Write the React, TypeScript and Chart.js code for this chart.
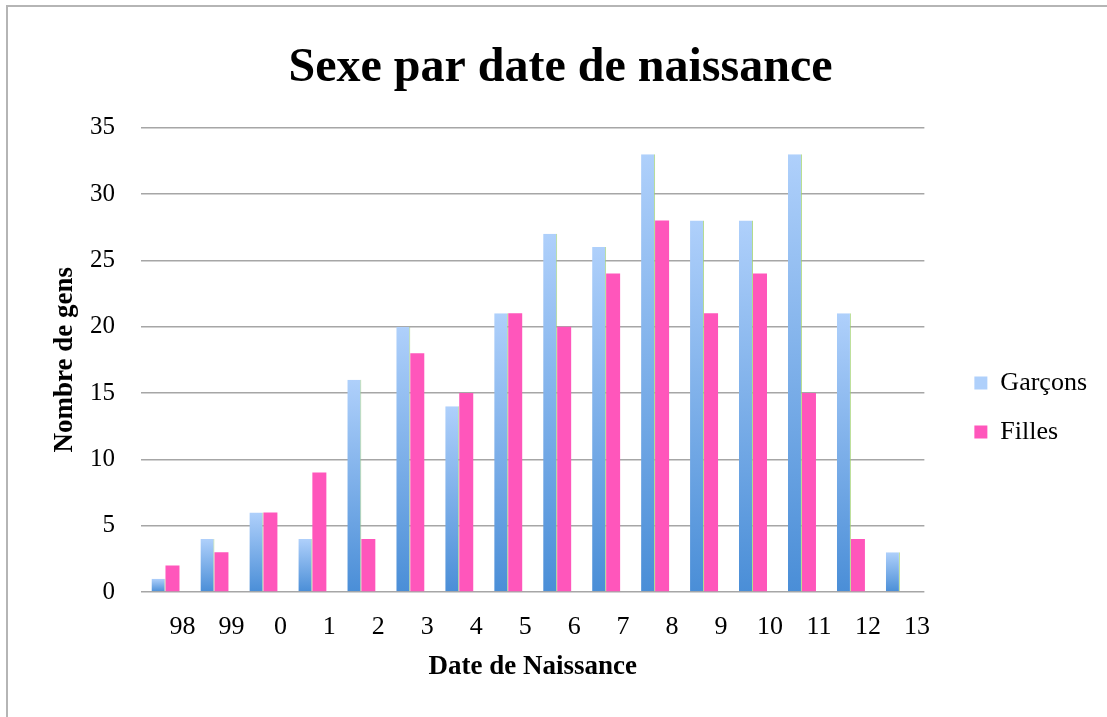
import React, { useEffect, useRef } from 'react';
import { Chart, registerables } from 'chart.js';

Chart.register(...registerables);

// ---- data ----
const categories = ['98', '99', '0', '1', '2', '3', '4', '5', '6', '7', '8', '9', '10', '11', '12', '13'];
const garcons = [1, 4, 6, 4, 16, 20, 14, 21, 27, 26, 33, 28, 28, 33, 21, 3];
const filles: (number | null)[] = [2, 3, 6, 9, 4, 18, 15, 21, 20, 24, 28, 21, 24, 15, 4, null];
const yMin = 0;
const yMax = 35;
const yStep = 5;

const chartTitle = 'Sexe par date de naissance';
const xTitle = 'Date de Naissance';
const yTitle = 'Nombre de gens';
const seriesNames = ['Garçons', 'Filles'];

export default function App() {
  const ref = useRef<HTMLCanvasElement>(null);

  useEffect(() => {
    const canvas = ref.current;
    if (!canvas) return;
    const serif = "'Liberation Serif', 'Times New Roman', serif";

    const blueFill = (c: any) => {
      const chart = c.chart;
      if (c.type !== 'data' || !chart.chartArea || c.raw == null) return '#7DB0EC';
      const y = chart.scales.y;
      const top = y.getPixelForValue(c.raw);
      const bottom = y.getPixelForValue(0);
      const g = chart.ctx.createLinearGradient(0, top, 0, bottom);
      g.addColorStop(0, '#AFD0FB');
      g.addColorStop(1, '#4A8ED7');
      return g;
    };

    const chart = new Chart(canvas, {
      type: 'bar',
      data: {
        labels: categories,
        datasets: [
          {
            label: seriesNames[0],
            data: garcons,
            backgroundColor: blueFill,
            borderColor: 'rgba(160,210,110,0.8)',
            borderWidth: { top: 0, right: 1, bottom: 0, left: 0 },
          },
          {
            label: seriesNames[1],
            data: filles,
            backgroundColor: '#FF56BB',
          },
        ],
      },
      options: {
        responsive: false,
        animation: false,
        events: [],
        layout: { padding: { top: 7, left: 24, right: 10, bottom: 30 } },
        datasets: { bar: { categoryPercentage: 0.572, barPercentage: 1 } },
        plugins: {
          title: {
            display: true,
            text: chartTitle,
            color: '#000',
            font: { family: serif, size: 48, weight: 'bold' },
            padding: { top: 33, bottom: 30 },
          },
          legend: {
            position: 'right',
            align: 'center',
            title: { display: true, text: ' ', font: { size: 1 }, padding: { top: 120, bottom: 0 } },
            labels: {
              boxWidth: 13,
              boxHeight: 13,
              padding: 23,
              color: '#000',
              font: { family: serif, size: 26 },
              generateLabels: (ch: any) =>
                (Chart.defaults.plugins.legend.labels.generateLabels as any)(ch).map((l: any) => ({
                  ...l,
                  lineWidth: 0,
                })),
            },
          },
          tooltip: { enabled: false },
        },
        scales: {
          x: {
            grid: { display: false, drawTicks: false },
            border: { display: false },
            ticks: {
              color: '#000',
              font: { family: serif, size: 26 },
              padding: 20,
              labelOffset: 17,
              maxRotation: 0,
              autoSkip: false,
            },
            title: {
              display: true,
              text: xTitle,
              color: '#000',
              font: { family: serif, size: 27, weight: 'bold' },
              padding: { top: 8, bottom: 4 },
            },
            afterFit: (s: any) => {
              s.height = 95;
            },
          },
          y: {
            min: yMin,
            max: yMax,
            ticks: { stepSize: yStep, color: '#000', font: { family: serif, size: 25 }, padding: 26 },
            grid: { color: '#A6A6A6', lineWidth: 1.5, drawTicks: false },
            border: { display: false },
            title: {
              display: true,
              text: yTitle,
              color: '#000',
              font: { family: serif, size: 27, weight: 'bold' },
              padding: { top: 25, bottom: 9 },
            },
            afterFit: (s: any) => {
              s.width = 117;
            },
          },
          y2: {
            position: 'right',
            display: true,
            grid: { display: false, drawTicks: false },
            border: { display: false },
            ticks: { display: false },
            afterFit: (s: any) => {
              s.width = 27;
            },
          },
        },
      } as any,
    });
    return () => chart.destroy();
  }, []);

  return (
    <div
      style={{
        position: 'fixed',
        left: 0,
        top: 0,
        width: 1107,
        height: 717,
        background: '#fff',
        overflow: 'hidden',
      }}
    >
      <canvas ref={ref} width={1107} height={717} style={{ position: 'absolute', left: 0, top: 0, width: 1107, height: 717 }} />
      <div
        style={{
          position: 'absolute',
          left: 6,
          top: 5,
          width: 1120,
          height: 730,
          borderTop: '2px solid #B5B5B5',
          borderLeft: '2px solid #B5B5B5',
          pointerEvents: 'none',
        }}
      />
    </div>
  );
}
